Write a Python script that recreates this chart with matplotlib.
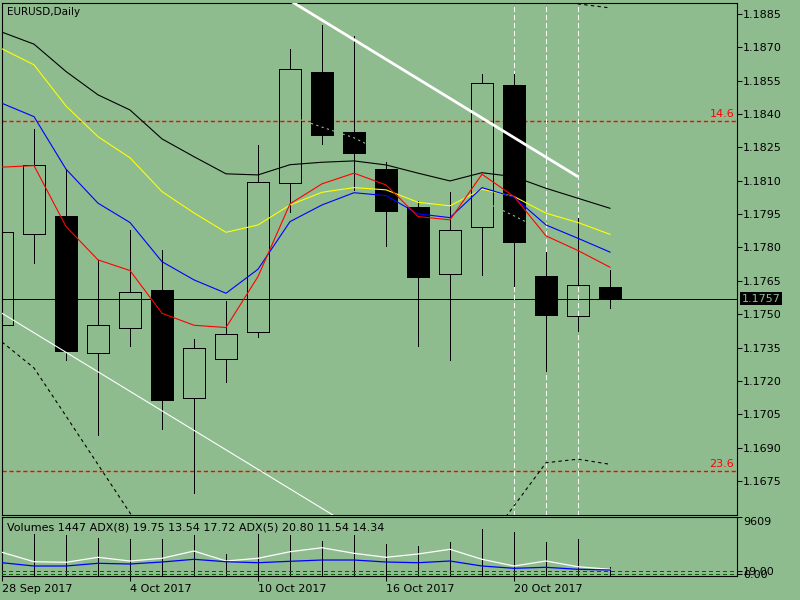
import matplotlib
matplotlib.use('Agg')
import matplotlib.pyplot as plt
import matplotlib.transforms as mtransforms
from matplotlib.patches import Rectangle
import numpy as np

BG = '#8fbc8f'
PX = 0.72  # one pixel at 100 dpi, in points

# --- data ---
days = ['28 Sep 2017', '29 Sep 2017', '2 Oct 2017', '3 Oct 2017', '4 Oct 2017',
        '5 Oct 2017', '6 Oct 2017', '9 Oct 2017', '10 Oct 2017', '11 Oct 2017',
        '12 Oct 2017', '13 Oct 2017', '16 Oct 2017', '17 Oct 2017', '18 Oct 2017',
        '19 Oct 2017', '20 Oct 2017', '23 Oct 2017', '24 Oct 2017', '25 Oct 2017']

opens = [1.17450, 1.17861, 1.17942, 1.17327, 1.17437, 1.17609, 1.17125, 1.17297, 1.17419, 1.18089,
         1.18589, 1.18319, 1.18153, 1.17982, 1.17680, 1.17891, 1.18529, 1.17672, 1.17491, 1.17622]
highs = [1.17900, 1.18333, 1.18153, 1.17744, 1.17879, 1.17789, 1.17389, 1.17560, 1.18261, 1.18691,
         1.18801, 1.18751, 1.18186, 1.18011, 1.18050, 1.18580, 1.18580, 1.17779, 1.17931, 1.17699]
lows = [1.17400, 1.17729, 1.17294, 1.16957, 1.17359, 1.16985, 1.16698, 1.17197, 1.17399, 1.17958,
        1.18265, 1.18059, 1.17808, 1.17359, 1.17296, 1.17678, 1.17628, 1.17246, 1.17426, 1.17529]
closes = [1.17868, 1.18171, 1.17336, 1.17450, 1.17599, 1.17114, 1.17347, 1.17410, 1.18096, 1.18601,
          1.18307, 1.18226, 1.17966, 1.17669, 1.17877, 1.18538, 1.17826, 1.17498, 1.17630, 1.17570]

ma_black = [1.18768, 1.18714, 1.18591, 1.18486, 1.18418, 1.18288, 1.18208, 1.18131, 1.18126, 1.18172,
            1.18183, 1.18189, 1.18171, 1.18134, 1.18099, 1.18136, 1.18118, 1.18066, 1.18021, 1.17976]
ma_yellow = [1.18693, 1.18621, 1.18436, 1.18298, 1.18203, 1.18051, 1.17955, 1.17868, 1.17901, 1.17991,
             1.18048, 1.18069, 1.18059, 1.18003, 1.17987, 1.18062, 1.18029, 1.17954, 1.17912, 1.17859]
ma_blue = [1.18448, 1.18388, 1.18152, 1.17999, 1.17912, 1.17736, 1.17654, 1.17594, 1.17702, 1.17916,
           1.17991, 1.18046, 1.18033, 1.17951, 1.17934, 1.18069, 1.18026, 1.17901, 1.17841, 1.17779]
ma_red = [1.18161, 1.18168, 1.17894, 1.17744, 1.17696, 1.17504, 1.17450, 1.17440, 1.17669, 1.17996,
          1.18086, 1.18134, 1.18081, 1.17939, 1.17924, 1.18129, 1.18029, 1.17852, 1.17786, 1.17711]

nan = np.nan
band_upper = [nan] * 17 + [1.18950, 1.18895, 1.18877]
band_lower = [1.17375, 1.17258, 1.17042, 1.16824, 1.16606, 1.16400, nan, nan, nan, nan,
              nan, nan, nan, nan, nan, 1.16444, 1.16638, 1.16832, 1.16848, 1.16825]
hidden_line = [nan] * 9 + [1.18390, 1.18341, 1.18293, 1.18222, 1.18155, 1.18083, 1.18011, 1.17942, 1.17870, nan, nan]

trend_k = [9, 18]
trend_p = [1.18910, 1.18118]
chan_k = [0, 11]
chan_p = [1.17504, 1.16539]

fib_levels = [1.18370, 1.16795]
fib_labels = ['14.6', '23.6']
last_price = 1.1757
vlines_k = [16, 17, 18]

volumes = [6000, 6830, 6720, 6190, 6030, 6030, 6720, 3630, 6830, 6720,
           5760, 6720, 5230, 4960, 5600, 7630, 7090, 5600, 6030, 1447]
adx_white = [73.5, 44.3, 42.5, 58.0, 46.5, 54.9, 77.5, 46.5, 54.9, 75.3,
             87.7, 70.4, 58.0, 68.2, 82.8, 51.8, 31.0, 46.5, 28.8, 20.8]
adx_blue = [41.2, 31.0, 31.0, 39.4, 37.2, 43.4, 51.8, 44.3, 41.2, 45.6,
            49.6, 49.6, 43.4, 41.2, 46.5, 31.0, 23.9, 27.0, 20.8, 18.6]
adx_levels = [16.4, 7.1]

price_ticks = np.arange(1.1675, 1.18851, 0.0015)

x = np.arange(len(opens))

fig = plt.figure(figsize=(8, 6), dpi=100, facecolor=BG)
ax = fig.add_axes([2 / 800, 85 / 600, 735 / 800, 512 / 600], facecolor=BG)
ax2 = fig.add_axes([2 / 800, 24 / 600, 735 / 800, 59 / 600], facecolor=BG)

xmax = 735 / 32
ax.set_xlim(0, xmax)
ax.set_ylim(1.16597, 1.18899)

# background objects
tr = mtransforms.blended_transform_factory(ax.transAxes, ax.transData)
ax.hlines(fib_levels, 0, xmax, colors='red', linestyles=(0, (3, 2)), lw=1.0, zorder=1)
for lvl, lab in zip(fib_levels, fib_labels):
    ax.annotate(lab, xy=(1, lvl), xycoords=tr, xytext=(-2, 1.5), textcoords='offset points',
                ha='right', va='bottom', color='red', fontsize=8)
ax.axhline(last_price, color='black', lw=PX, zorder=1, antialiased=False)
for k in vlines_k:
    ax.axvline(k, color='white', lw=PX, dashes=(5, 4), zorder=1, antialiased=False)

# candles
w = 0.69
for i in x:
    o, h, l, c = opens[i], highs[i], lows[i], closes[i]
    top, bot = max(o, c), min(o, c)
    ax.plot([i, i], [top, h], color='black', lw=PX, zorder=2, antialiased=False)
    ax.plot([i, i], [l, bot], color='black', lw=PX, zorder=2, antialiased=False)
    fc = 'black' if c < o else 'none'
    ax.add_patch(Rectangle((i - w / 2, bot), w, top - bot, facecolor=fc,
                           edgecolor='black', lw=PX, zorder=3, antialiased=False))

ax.plot(x, hidden_line, color=BG, lw=0.8, dashes=(2, 3), zorder=4)

# moving averages
ax.plot(x, ma_black, color='black', lw=0.8, zorder=5)
ax.plot(x, ma_yellow, color='yellow', lw=0.8, zorder=5)
ax.plot(x, ma_blue, color='blue', lw=0.8, zorder=5)
ax.plot(x, ma_red, color='red', lw=0.8, zorder=5)
ax.plot(x, band_upper, color='black', lw=0.8, dashes=(3, 3), zorder=5)
ax.plot(x, band_lower, color='black', lw=0.8, dashes=(3, 3), zorder=5)

# trend lines
ax.plot(trend_k, trend_p, color='white', lw=2, zorder=6, solid_capstyle='butt')
ax.plot(chan_k, chan_p, color='white', lw=0.8, zorder=6)

ax.set_xticks([])
ax.yaxis.tick_right()
ax.set_yticks(price_ticks)
ax.set_yticklabels(['%.4f' % p for p in price_ticks])
ax.tick_params(axis='y', direction='out', length=3.5, width=0.75, pad=1, labelsize=8, colors='black')
for s in ax.spines.values():
    s.set_linewidth(0.8)

ax.annotate('%.4f' % last_price, xy=(1, last_price), xycoords=tr, xytext=(3.2, 0),
            textcoords='offset points', ha='left', va='center', color=BG, fontsize=8,
            bbox=dict(boxstyle='square,pad=0.12', fc='black', ec='none'))
ax.text(5 / 735, 0.982, 'EURUSD,Daily', transform=ax.transAxes, fontsize=7.5,
        ha='left', va='center', color='black')

# lower panel
ax2.set_xlim(0, xmax)
ax2.set_ylim(0, 9609)
ax2.vlines(x, 0, volumes, color='black', lw=PX, zorder=2, antialiased=False)
ax3 = ax2.twinx()
ax3.set_ylim(0, 183)
ax3.set_xlim(0, xmax)
for lvl in adx_levels:
    ax3.axhline(lvl, color='#006400', lw=PX, dashes=(4, 3), zorder=1, antialiased=False)
ax3.plot(x, adx_white, color='white', lw=0.9, zorder=3)
ax3.plot(x, adx_blue, color='blue', lw=0.9, zorder=3)
ax3.set_yticks([])
for s in ax3.spines.values():
    s.set_visible(False)

ax2.yaxis.tick_right()
ax2.set_yticks([9609, 863, 375])
ax2.set_yticklabels(['9609', '19.00', '0.00'])
ax2.get_yticklabels()[0].set_va('top')
ax2.tick_params(axis='y', direction='out', length=3.5, width=0.75, pad=1, labelsize=8)
ax2.set_xticks(x[::4])
ax2.set_xticklabels(days[::4])
for lab in ax2.get_xticklabels():
    lab.set_ha('left')
ax2.tick_params(axis='x', direction='out', length=3.5, width=0.75, pad=2, labelsize=8)
for s in ax2.spines.values():
    s.set_linewidth(0.8)
ax2.text(5 / 735, 0.83, 'Volumes 1447 ADX(8) 19.75 13.54 17.72 ADX(5) 20.80 11.54 14.34',
         transform=ax2.transAxes, fontsize=8, ha='left', va='center', color='black')

fig.savefig('out.png', dpi=100, facecolor=BG)
